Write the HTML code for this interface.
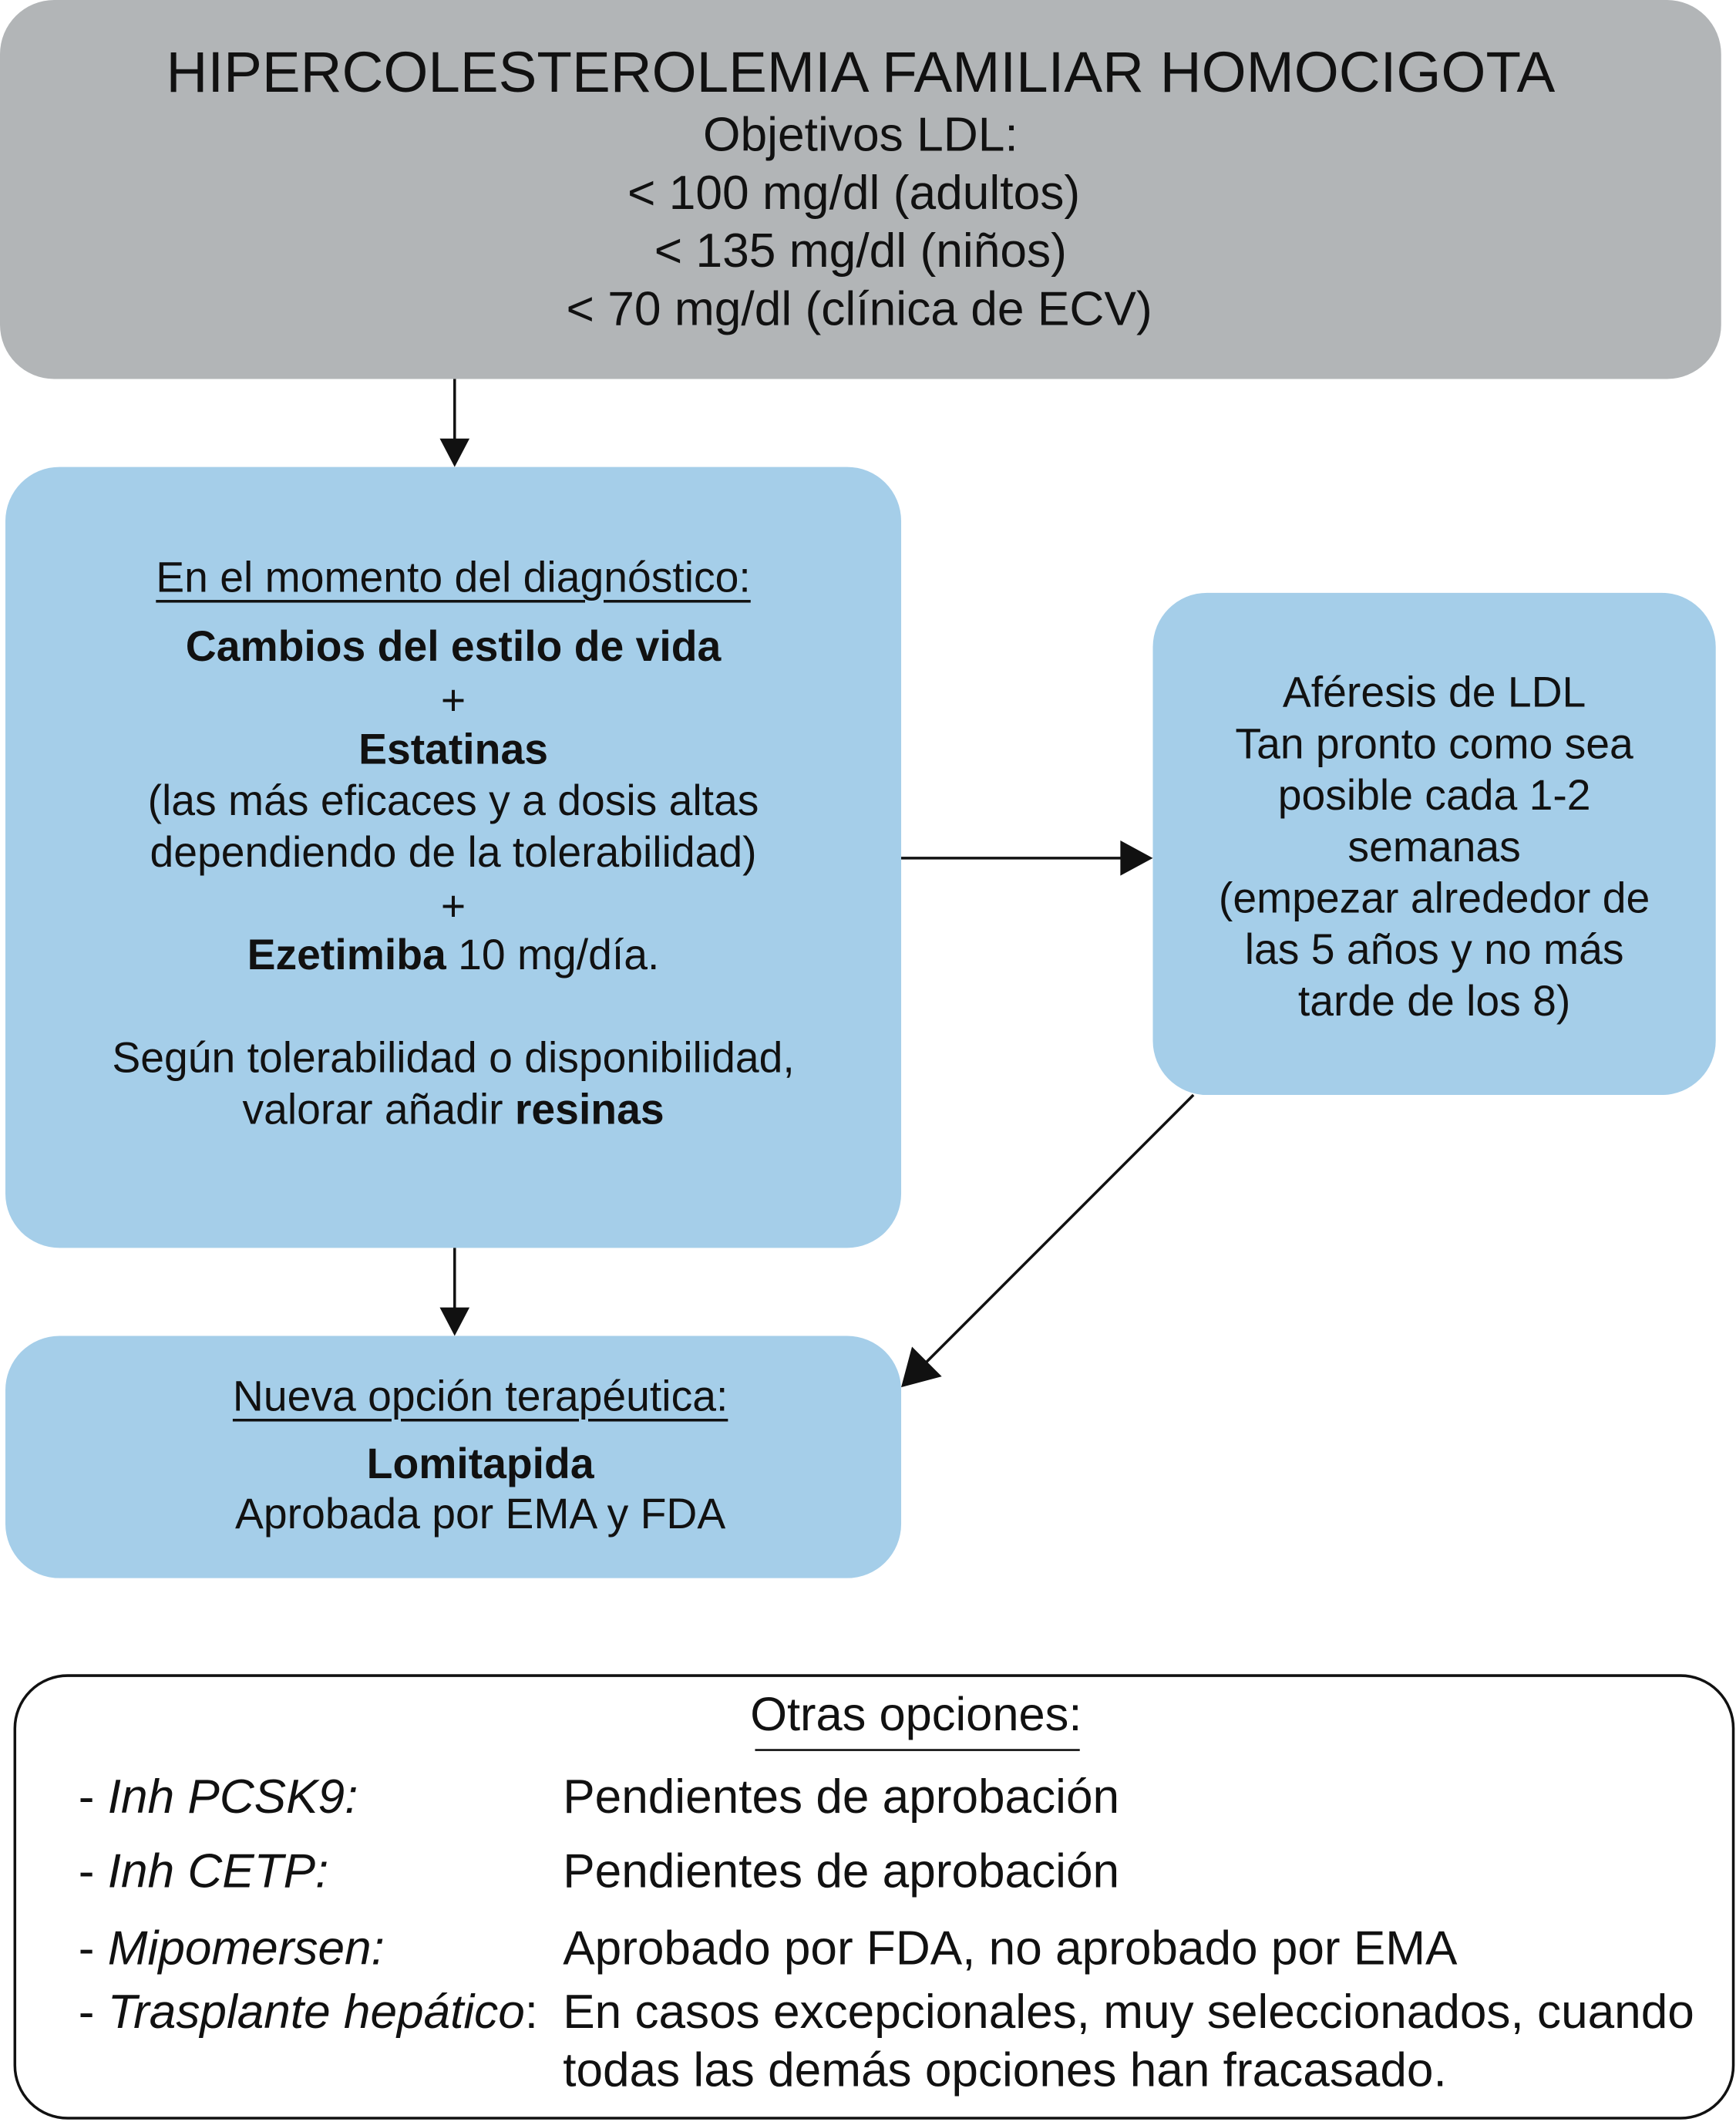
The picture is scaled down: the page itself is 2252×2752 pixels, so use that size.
<!DOCTYPE html>
<html><head><meta charset="utf-8"><style>
html,body{margin:0;padding:0;background:#fff;}
body{width:2252px;height:2752px;overflow:hidden;position:relative;}
#w{position:absolute;left:0;top:0;width:1283px;height:1568px;transform:scale(1.7553);transform-origin:0 0;font-family:"Liberation Sans",sans-serif;color:#111;}
.b{position:absolute;border-radius:40px;}
.t{position:absolute;white-space:nowrap;transform:translate(-50%,-50%);line-height:1;}
.l{position:absolute;white-space:nowrap;transform:translateY(-50%);line-height:1;font-size:35.4px;}
.u{text-decoration:underline;text-underline-offset:6px;text-decoration-thickness:2px;}
.m{font-size:31.5px;}
</style></head><body><div id="w">
<div class="b" style="left:0;top:0;width:1272px;height:280px;background:#b2b5b7"></div>
<div class="b" style="left:4px;top:345px;width:662px;height:577px;background:#a5cee9"></div>
<div class="b" style="left:852px;top:438px;width:416px;height:371px;background:#a5cee9"></div>
<div class="b" style="left:4px;top:987px;width:662px;height:179px;background:#a5cee9"></div>
<div class="b" style="left:10px;top:1237px;width:1272px;height:329px;border:2px solid #111;box-sizing:border-box;border-radius:40px"></div>
<svg style="position:absolute;left:0;top:0" width="1283" height="1568">
<g stroke="#111" stroke-width="2" fill="#111">
<line x1="336" y1="280" x2="336" y2="326"/><polygon points="325,324 347,324 336,345" stroke="none"/>
<line x1="666" y1="634" x2="830" y2="634"/><polygon points="828,621 852,634 828,647" stroke="none"/>
<line x1="336" y1="922" x2="336" y2="968"/><polygon points="325,966 347,966 336,987" stroke="none"/>
<line x1="882" y1="809" x2="680" y2="1011"/><polygon points="666,1025 674,995 696,1017" stroke="none"/>
<line x1="558" y1="1293" x2="798" y2="1293" stroke-width="1.5"/>
</g></svg>
<div class="t" style="left:636px;top:55px;font-size:42.5px">HIPERCOLESTEROLEMIA FAMILIAR HOMOCIGOTA</div>
<div class="t" style="left:636px;top:100px;font-size:35.5px">Objetivos LDL:</div>
<div class="t" style="left:631px;top:143px;font-size:35.5px">&lt; 100 mg/dl (adultos)</div>
<div class="t" style="left:636px;top:186px;font-size:35.5px">&lt; 135 mg/dl (niños)</div>
<div class="t" style="left:635px;top:229px;font-size:35.5px">&lt; 70 mg/dl (clínica de ECV)</div>

<div class="t u m" style="left:335px;top:427px">En el momento del diagnóstico:</div>
<div class="t m" style="left:335px;top:478px;font-weight:bold">Cambios del estilo de vida</div>
<div class="t m" style="left:335px;top:518px">+</div>
<div class="t m" style="left:335px;top:554px;font-weight:bold">Estatinas</div>
<div class="t m" style="left:335px;top:592px">(las más eficaces y a dosis altas</div>
<div class="t m" style="left:335px;top:630px">dependiendo de la tolerabilidad)</div>
<div class="t m" style="left:335px;top:670px">+</div>
<div class="t m" style="left:335px;top:706px"><b>Ezetimiba</b> 10 mg/día.</div>
<div class="t m" style="left:335px;top:782px">Según tolerabilidad o disponibilidad,</div>
<div class="t m" style="left:335px;top:820px">valorar añadir <b>resinas</b></div>

<div class="t m" style="left:1060px;top:512px">Aféresis de LDL</div>
<div class="t m" style="left:1060px;top:550px">Tan pronto como sea</div>
<div class="t m" style="left:1060px;top:588px">posible cada 1-2</div>
<div class="t m" style="left:1060px;top:626px">semanas</div>
<div class="t m" style="left:1060px;top:664px">(empezar alrededor de</div>
<div class="t m" style="left:1060px;top:702px">las 5 años y no más</div>
<div class="t m" style="left:1060px;top:740px">tarde de los 8)</div>

<div class="t u m" style="left:355px;top:1032px">Nueva opción terapéutica:</div>
<div class="t m" style="left:355px;top:1082px;font-weight:bold">Lomitapida</div>
<div class="t m" style="left:355px;top:1119px">Aprobada por EMA y FDA</div>

<div class="t" style="left:677px;top:1267px;font-size:35px">Otras opciones:</div>
<div class="l" style="left:58px;top:1328px">- <i>Inh PCSK9:</i></div>
<div class="l" style="left:416px;top:1328px">Pendientes de aprobación</div>
<div class="l" style="left:58px;top:1383px">- <i>Inh CETP:</i></div>
<div class="l" style="left:416px;top:1383px">Pendientes de aprobación</div>
<div class="l" style="left:58px;top:1440px">- <i>Mipomersen:</i></div>
<div class="l" style="left:416px;top:1440px">Aprobado por FDA, no aprobado por EMA</div>
<div class="l" style="left:58px;top:1487px">- <i>Trasplante hepático</i>:</div>
<div class="l" style="left:416px;top:1487px">En casos excepcionales, muy seleccionados, cuando</div>
<div class="l" style="left:416px;top:1530px">todas las demás opciones han fracasado.</div>
</div></body></html>
